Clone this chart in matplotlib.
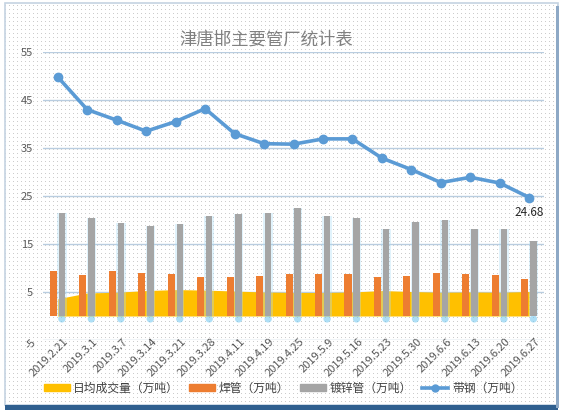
import numpy as np
import matplotlib.pyplot as plt
from matplotlib.patches import Rectangle, Patch
from matplotlib.lines import Line2D

plt.rcParams['font.family'] = ['Noto Sans CJK SC', 'DejaVu Sans']

# ── Data ─────────────────────────────────────────────────────────────────────
dates = ['2019.2.21', '2019.3.1', '2019.3.7', '2019.3.14', '2019.3.21', '2019.3.28',
         '2019.4.11', '2019.4.19', '2019.4.25', '2019.5.9', '2019.5.16', '2019.5.23',
         '2019.5.30', '2019.6.6', '2019.6.13', '2019.6.20', '2019.6.27']
daily_volume = [3.6, 4.8, 4.95, 5.3, 5.5, 5.4, 5.2, 5.0, 4.9, 4.9, 5.0, 5.3,
                5.1, 4.95, 5.0, 4.95, 5.1]
welded = [9.4, 8.5, 9.4, 9.0, 8.75, 8.1, 8.1, 8.3, 8.75, 8.75, 8.75, 8.1,
          8.3, 8.95, 8.75, 8.5, 7.7]
galvanized = [21.4, 20.4, 19.4, 18.75, 19.2, 20.8, 21.25, 21.4, 22.5, 20.8, 20.4, 18.05,
              19.6, 20.1, 18.05, 18.05, 15.55]
strip = [49.8, 43.0, 40.8, 38.5, 40.5, 43.2, 38.0, 35.9, 35.8, 36.9, 36.9, 32.9,
         30.5, 27.8, 28.9, 27.7, 24.68]
y_ticks = [-5, 5, 15, 25, 35, 45, 55]

legend_labels = ['日均成交量（万吨）', '焊管（万吨）', '镀锌管（万吨）', '带钢（万吨）']

YELLOW, ORANGE, GRAY, BLUE = '#FFC000', '#ED7D31', '#A5A5A5', '#5B9BD5'
W, H = 564, 418

fig = plt.figure(figsize=(W / 100, H / 100), dpi=100)

# ── Dotted chart-area background + frame ─────────────────────────────────────
bg = np.ones((H, W, 3))
bg[1::4, 1::4] = 0.80
bg[:3, :] = 1.0
bg[H - 13:, :] = 1.0
bg[:, :5] = 1.0
bg[:, W - 6:] = 1.0
fig.figimage(bg, 0, 0, zorder=-5)

def fr(x, y, w, h, **kw):
    fig.patches.append(Rectangle((x / W, 1 - (y + h) / H), w / W, h / H,
                                 transform=fig.transFigure, **kw))

fr(5, 3, 553, 402, fill=False, edgecolor='#C5D3E2', lw=1.2, zorder=-4)
fr(5, 405, 553, 5, facecolor='#2F5F8F', edgecolor='none', zorder=-4)
fr(556, 6, 3, 402, facecolor='#8EA9C6', edgecolor='none', zorder=-4)

# ── Axes ─────────────────────────────────────────────────────────────────────
ax = fig.add_axes([43 / W, 1 - 340 / H, 501 / W, 288 / H], zorder=2)
ax.patch.set_alpha(0)
x = np.arange(len(dates))

ax.fill_between(x, 0, daily_volume, color=YELLOW, lw=0, zorder=2)
ax.bar(x + 0.14, galvanized, 0.32, color='#A9DDF7', alpha=0.35, zorder=2.5)
ax.scatter(x + 0.14, [-0.6] * len(x), s=28, color='#6CC6F0', alpha=0.55,
           edgecolors='none', zorder=2.4)
ax.bar(x - 0.15, welded, 0.24, color=ORANGE, zorder=3)
ax.bar(x + 0.14, galvanized, 0.22, color=GRAY, zorder=3)
ax.plot(x, strip, color=BLUE, lw=2.6, marker='o', ms=6, zorder=4)

ax.annotate(f'{strip[-1]:.2f}', (x[-1], strip[-1]), xytext=(0, -6),
            textcoords='offset points', ha='center', va='top', fontsize=8.5,
            color='#262626', zorder=5)

for i, d in enumerate(dates):
    ax.text(i + 0.3, -5.0, d, rotation=45, rotation_mode='anchor', ha='right',
            va='center', fontsize=8, color='#595959')

ax.set_xlim(-0.5, len(dates) - 0.5)
ax.set_ylim(-5, 55)
ax.set_yticks(y_ticks)
ylabels = ax.set_yticklabels([str(v) for v in y_ticks])
ylabels[0].set_rotation(45)
ylabels[0].set_rotation_mode('anchor')
ax.set_xticks([])
ax.grid(axis='y', color='#B9CDE0', lw=1)
ax.set_axisbelow(True)
ax.tick_params(axis='y', length=0, pad=7, labelsize=8, labelcolor='#595959')
for s in ax.spines.values():
    s.set_visible(False)

fig.text(266 / W, 1 - 40 / H, '津唐邯主要管厂统计表', ha='center', va='center',
         fontsize=12.5, color='#808080')

handles = [Patch(color=YELLOW), Patch(color=ORANGE), Patch(color=GRAY),
           Line2D([], [], color=BLUE, lw=2.6, marker='o', ms=5)]
fig.legend(handles, legend_labels, loc='center', bbox_to_anchor=(283 / W, 1 - 388 / H),
           ncol=4, frameon=False, fontsize=8.5, handlelength=2.2, handleheight=0.6,
           columnspacing=0.9, handletextpad=0.3, labelcolor='#404040')

fig.savefig('out.png', dpi=100)
